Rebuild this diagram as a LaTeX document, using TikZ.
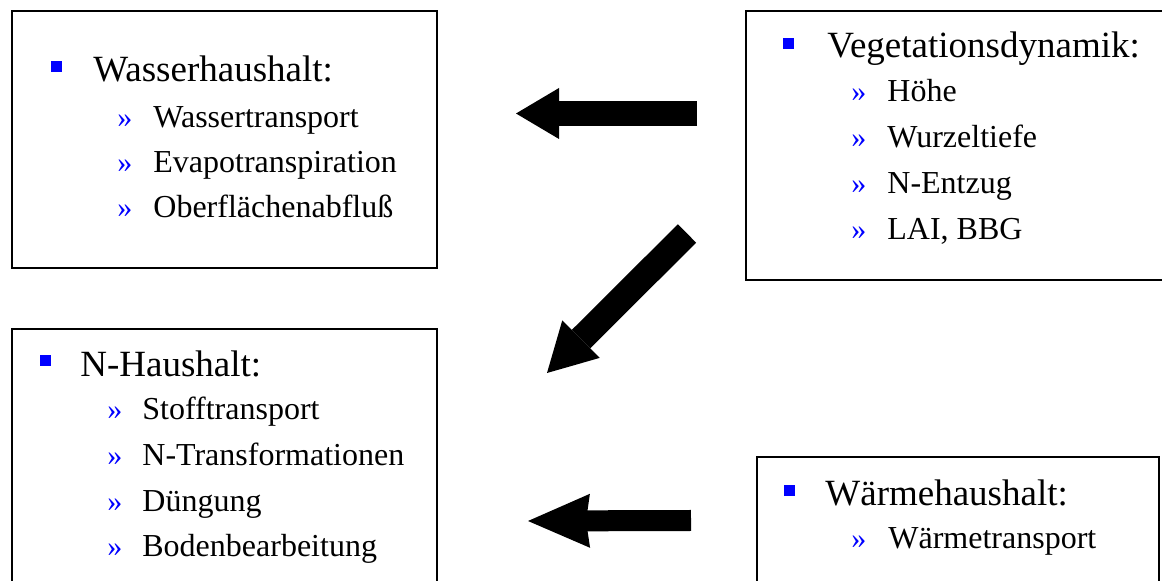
\documentclass[tikz,border=0pt]{standalone}
\usepackage{fontspec}
\setmainfont{Liberation Serif}
\usetikzlibrary{arrows.meta,positioning}

\begin{document}
\begin{tikzpicture}[x=0.5pt,y=-0.5pt,
	box/.style={draw,line width=1pt,anchor=north west,inner sep=0pt},
	punkt/.style={fill=blue,minimum size=5.5pt,inner sep=0pt},
	titel/.style={anchor=base west,inner sep=0pt,font=\fontsize{18.5}{20}\selectfont},
	unter/.style={anchor=base west,inner sep=0pt,font=\fontsize{16}{18}\selectfont},
	zeichen/.style={anchor=base west,inner sep=0pt,text=blue,font=\fontsize{15}{17}\selectfont}]

	\path[use as bounding box,fill=white] (0,0) rectangle (1162,581);

	% Kaesten
	\node[box,minimum width=212.5pt,minimum height=128.5pt] (wasser) at (11,10) {};
	\node[box,minimum width=222.5pt,minimum height=134.5pt] (vegetation) at (745,10) {};
	\node[box,minimum width=212.5pt,minimum height=146pt] (stickstoff) at (11,328) {};
	\node[box,minimum width=201pt,minimum height=82pt] (waerme) at (756,456) {};

	% Wasserhaushalt
	\node[punkt] (wasserP) at (56,67) {};
	\node[titel] (wasserT) at (93,82) {Wasserhaushalt:};
	\foreach \txt [count=\i] in {Wassertransport,Evapotranspiration,Oberflächenabfluß} {
		\node[zeichen] (wasserZ\i) at (117,{83+45*\i}) {»};
		\node[unter] (wasser\i) at (153,{83+45*\i}) {\txt};
	}

	% Vegetationsdynamik
	\node[punkt] (vegetationP) at (788,44) {};
	\node[titel] (vegetationT) at (827,58) {Vegetationsdynamik:};
	\foreach \txt [count=\i] in {Höhe,Wurzeltiefe,N-Entzug,{LAI, BBG}} {
		\node[zeichen] (vegetationZ\i) at (851,{56+46*\i}) {»};
		\node[unter] (vegetation\i) at (887,{56+46*\i}) {\txt};
	}

	% N-Haushalt
	\node[punkt] (stickstoffP) at (45,361) {};
	\node[titel] (stickstoffT) at (80,377) {N-Haushalt:};
	\foreach \txt [count=\i] in {Stofftransport,N-Transformationen,Düngung,Bodenbearbeitung} {
		\node[zeichen] (stickstoffZ\i) at (107,{374+45.7*\i}) {»};
		\node[unter] (stickstoff\i) at (142,{374+45.7*\i}) {\txt};
	}

	% Waermehaushalt
	\node[punkt] (waermeP) at (789,491) {};
	\node[titel] (waermeT) at (825,506) {Wärmehaushalt:};
	\node[zeichen] (waermeZ1) at (851,549) {»};
	\node[unter] (waerme1) at (888,549) {Wärmetransport};

	% Pfeile
	\coordinate (p1a) at (697,113.5);
	\coordinate (p1b) at (516,113.5);
	\coordinate (p2a) at (687,233.5);
	\coordinate (p2b) at (547,373);
	\coordinate (p3a) at (691,520.5);
	\coordinate (p3b) at (528,521);

	\draw[line width=12.5pt,-{Triangle[length=21.5pt,width=25.5pt,line width=0pt]}] (p1a) -- (p1b);
	\draw[line width=13pt,-{Triangle[length=24pt,width=26.5pt,line width=0pt]}] (p2a) -- (p2b);
	\draw[line width=10.5pt,-{Stealth[length=31pt,width=27pt,inset=2pt,line width=0pt]}] (p3a) -- (p3b);

\end{tikzpicture}
\end{document}
